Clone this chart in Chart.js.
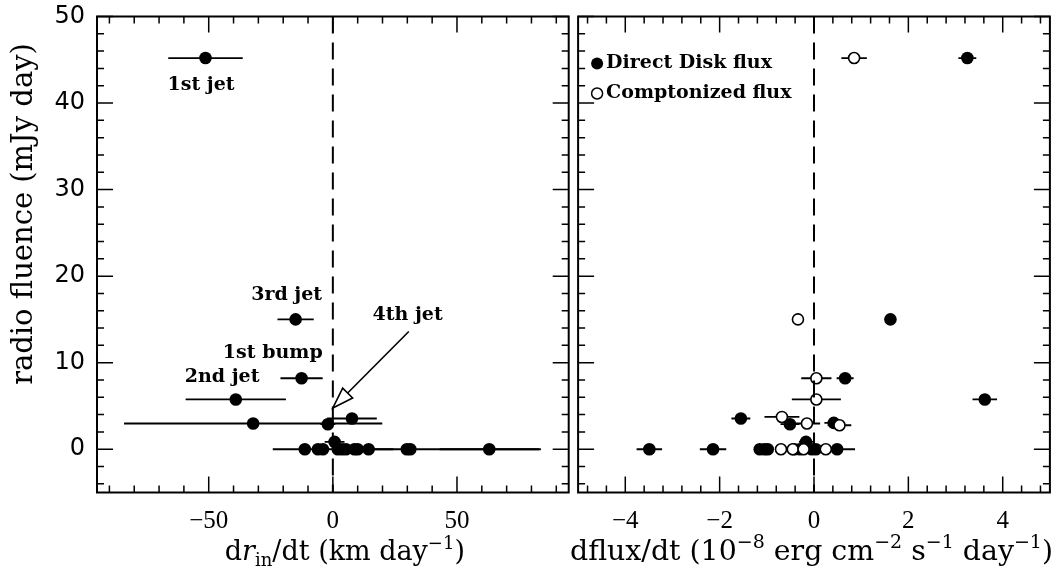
<!DOCTYPE html>
<html>
<head>
<meta charset="utf-8">
<script src="https://cdn.jsdelivr.net/npm/chart.js@4.4.1/dist/chart.umd.min.js"></script>
<style>
  html, body { margin: 0; padding: 0; background: #fff; }
  #wrap { position: relative; width: 1057px; height: 571px; overflow: hidden; }
  canvas { position: absolute; top: 0; }
  #left { left: 0; }
  #right { left: 571px; }
</style>
</head>
<body>
<div id="wrap">
  <canvas id="left" width="575" height="571"></canvas>
  <canvas id="right" width="486" height="571"></canvas>
</div>
<script>
// shared y axis: radio fluence (mJy day)
const yTicks = [0, 10, 20, 30, 40, 50];
const drdtTicks = [-50, 0, 50];
const dfluxTicks = [-4, -2, 0, 2, 4];

// left panel: d r_in / dt (km/day)
const drdtX   = [-51.3, -15.0, -12.6, -39.1, 7.7, -32.1, -2.0, -11.3, -6.0, -4.0, 0.7, 2.0, 3.7, 5.3, 8.7, 10.0, 14.4, 29.8, 31.2, 63.0];
const drdtY   = [45.2, 15.0, 8.2, 5.75, 3.55, 2.97, 2.89, 0, 0, 0, 0.85, 0, 0, 0, 0, 0, 0, 0, 0, 0];
const drdtErr = [15, 7.3, 8.5, 20.2, 10, 52, 3, 0, 0, 0, 4, 0, 0, 0, 0, 0, 10, 54, 0, 20];

// right panel: dflux/dt, direct disk flux (filled)
const diskX   = [3.25, 1.62, 0.66, 3.62, -1.55, 0.42, -0.51, -3.49, -2.14, -1.15, -1.05, -0.98, -0.42, -0.30, -0.17, -0.05, 0.04, 0.49];
const diskY   = [45.2, 15.0, 8.2, 5.75, 3.55, 3.04, 2.89, 0, 0, 0, 0, 0, 0, 0, 0.85, 0, 0, 0];
const diskErr = [0.19, 0, 0.18, 0.26, 0.2, 0.2, 0.2, 0.27, 0.28, 0.12, 0.1, 0.1, 0.15, 0.1, 0.15, 0.1, 0.1, 0.38];

// right panel: comptonized flux (open)
const compX   = [0.85, -0.34, 0.05, 0.05, -0.68, -0.15, 0.54, -0.70, -0.45, -0.22, 0.25];
const compY   = [45.2, 15.0, 8.2, 5.75, 3.73, 2.97, 2.77, 0, 0, 0, 0];
const compErr = [0.27, 0, 0.32, 0.52, 0.37, 0.28, 0.25, 0.1, 0.1, 0.1, 0.1];

// labels in the left panel (data coords)
const jetLabels = ['1st jet', '3rd jet', '1st bump', '2nd jet', '4th jet'];
const jetLabelX = [-53.1, -18.6, -24.2, -44.6, 30.1];
const jetLabelY = [42.1, 17.8, 11.1, 8.36, 15.5];
const arrowFrom = [30.6, 13.6];
const arrowTo = [0, 4.77];

const LABEL_FONT = 'bold 19px "DejaVu Serif"';

function pts(xs, ys) {
  return xs.map((x, i) => ({ x: x, y: ys[i] }));
}

function drawRich(ctx, parts, cx, baseline, size, family) {
  const small = Math.round(size * 0.68);
  const fontFor = k => (k === 'i' ? 'italic ' : '') + ((k === 'sub' || k === 'sup') ? small : size) + 'px ' + family;
  let total = 0;
  parts.forEach(p => { ctx.font = fontFor(p[1]); total += ctx.measureText(p[0]).width; });
  let x = cx - total / 2;
  ctx.textAlign = 'left';
  ctx.textBaseline = 'alphabetic';
  parts.forEach(p => {
    ctx.font = fontFor(p[1]);
    const dy = p[1] === 'sup' ? -size * 0.42 : p[1] === 'sub' ? size * 0.22 : 0;
    ctx.fillText(p[0], x, baseline + dy);
    x += ctx.measureText(p[0]).width;
  });
}

function tickLoop(min, max, step, major, cb) {
  for (let k = Math.ceil(min / step - 1e-9); k * step <= max + 1e-9; k++) {
    const v = k * step;
    const isMajor = Math.abs(v / major - Math.round(v / major)) < 1e-6;
    cb(v, isMajor);
  }
}

const framePlugin = {
  id: 'frame',
  beforeDatasetsDraw(chart) {
    // horizontal error bars
    const ctx = chart.ctx, xs = chart.scales.x, ys = chart.scales.y, ca = chart.chartArea;
    ctx.save();
    ctx.beginPath();
    ctx.rect(ca.left, ca.top, ca.right - ca.left, ca.bottom - ca.top);
    ctx.clip();
    ctx.strokeStyle = '#000';
    ctx.lineWidth = 1.8;
    chart.data.datasets.forEach(ds => {
      ds.data.forEach((p, i) => {
        const e = ds.errX[i];
        if (!e) return;
        const y = ys.getPixelForValue(p.y);
        ctx.beginPath();
        ctx.moveTo(xs.getPixelForValue(p.x - e), y);
        ctx.lineTo(xs.getPixelForValue(p.x + e), y);
        ctx.stroke();
      });
    });
    ctx.restore();
  },
  afterDatasetsDraw(chart) {
    // dashed line at x = 0
    const ctx = chart.ctx, xs = chart.scales.x, ca = chart.chartArea;
    const x0 = xs.getPixelForValue(0);
    ctx.save();
    ctx.strokeStyle = '#000';
    ctx.lineWidth = 2;
    ctx.setLineDash([17, 9]);
    ctx.beginPath();
    ctx.moveTo(x0, ca.top);
    ctx.lineTo(x0, ca.bottom);
    ctx.stroke();
    ctx.restore();
  },
  afterDraw(chart, args, o) {
    const ctx = chart.ctx, xs = chart.scales.x, ys = chart.scales.y, ca = chart.chartArea;
    ctx.save();
    ctx.strokeStyle = '#000';
    ctx.fillStyle = '#000';
    // ticks on all four sides
    ctx.lineWidth = 1.5;
    ctx.beginPath();
    tickLoop(xs.min, xs.max, o.xMinor, o.xMajor, (v, big) => {
      const px = xs.getPixelForValue(v), len = big ? 16 : 7;
      ctx.moveTo(px, ca.bottom); ctx.lineTo(px, ca.bottom - len);
      ctx.moveTo(px, ca.top); ctx.lineTo(px, ca.top + len);
    });
    tickLoop(ys.min, ys.max, 2, 10, (v, big) => {
      const py = ys.getPixelForValue(v), len = big ? 16 : 7;
      ctx.moveTo(ca.left, py); ctx.lineTo(ca.left + len, py);
      ctx.moveTo(ca.right, py); ctx.lineTo(ca.right - len, py);
    });
    ctx.stroke();
    // frame
    ctx.lineWidth = 2;
    ctx.strokeRect(ca.left, ca.top, ca.right - ca.left, ca.bottom - ca.top);

    // x title
    drawRich(ctx, o.xTitle, (ca.left + ca.right) / 2 + o.xTitleShift, 560, o.xTitleSize, o.xTitleFont);

    if (o.yTitle) {
      ctx.save();
      ctx.translate(24, 214);
      ctx.rotate(-Math.PI / 2);
      ctx.font = '29px "DejaVu Serif"';
      ctx.textAlign = 'center';
      ctx.textBaseline = 'middle';
      ctx.fillText(o.yTitle, 0, 0);
      ctx.restore();
    }

    if (o.jets) {
      ctx.font = LABEL_FONT;
      ctx.textAlign = 'center';
      ctx.textBaseline = 'middle';
      jetLabels.forEach((t, i) => {
        ctx.fillText(t, xs.getPixelForValue(jetLabelX[i]), ys.getPixelForValue(jetLabelY[i]));
      });
      // arrow to the 4th jet
      const x1 = xs.getPixelForValue(arrowFrom[0]), y1 = ys.getPixelForValue(arrowFrom[1]);
      const x2 = xs.getPixelForValue(arrowTo[0]), y2 = ys.getPixelForValue(arrowTo[1]);
      const ang = Math.atan2(y2 - y1, x2 - x1);
      const hl = 21, hw = 7;
      const bx = x2 - hl * Math.cos(ang), by = y2 - hl * Math.sin(ang);
      ctx.lineWidth = 1.6;
      ctx.beginPath();
      ctx.moveTo(x1, y1);
      ctx.lineTo(bx, by);
      ctx.stroke();
      ctx.beginPath();
      ctx.moveTo(x2, y2);
      ctx.lineTo(bx + hw * Math.sin(ang), by - hw * Math.cos(ang));
      ctx.lineTo(bx - hw * Math.sin(ang), by + hw * Math.cos(ang));
      ctx.closePath();
      ctx.fillStyle = '#fff';
      ctx.fill();
      ctx.stroke();
      ctx.fillStyle = '#000';
    }

    if (o.legend) {
      const lx = ca.left + 19, ly = ca.top + 47;
      ctx.beginPath();
      ctx.arc(lx, ly, 6, 0, Math.PI * 2);
      ctx.fill();
      ctx.beginPath();
      ctx.arc(lx, ly + 30, 5.5, 0, Math.PI * 2);
      ctx.lineWidth = 1.5;
      ctx.stroke();
      ctx.font = LABEL_FONT;
      ctx.textAlign = 'left';
      ctx.textBaseline = 'middle';
      ctx.fillText('Direct Disk flux', lx + 9, ly);
      ctx.fillText('Comptonized flux', lx + 9, ly + 30);
    }
    ctx.restore();
  }
};

function fixedTicks(list) {
  return scale => { scale.ticks = list.map(v => ({ value: v })); };
}

function panel(id, opts) {
  return new Chart(document.getElementById(id), {
    type: 'scatter',
    data: { datasets: opts.datasets },
    options: {
      responsive: false,
      animation: false,
      events: [],
      layout: { padding: opts.padding },
      plugins: {
        legend: { display: false },
        tooltip: { enabled: false },
        frame: opts.frame
      },
      scales: {
        x: {
          type: 'linear',
          min: opts.xMin,
          max: opts.xMax,
          afterBuildTicks: fixedTicks(opts.xTicks),
          afterFit: s => { s.height = 78.5; s.paddingLeft = 0; s.paddingRight = 0; },
          grid: { display: false, drawTicks: false },
          border: { display: false },
          ticks: {
            padding: 14,
            color: '#000',
            maxRotation: 0,
            autoSkip: false,
            font: { family: '"Liberation Serif"', size: 25 },
            callback: v => String(v).replace('-', '\u2212')
          }
        },
        y: {
          type: 'linear',
          min: -5,
          max: 50,
          display: opts.showY,
          afterBuildTicks: fixedTicks(yTicks),
          afterFit: s => { s.width = opts.showY ? 97 : 0; s.paddingTop = 0; s.paddingBottom = 0; },
          grid: { display: false, drawTicks: false },
          border: { display: false },
          ticks: {
            padding: 12,
            color: '#000',
            autoSkip: false,
            font: { family: '"DejaVu Sans"', size: 24 }
          }
        }
      }
    },
    plugins: [framePlugin]
  });
}

panel('left', {
  xMin: -95, xMax: 95, xTicks: drdtTicks, showY: true,
  padding: { left: 0, right: 2, top: 16.5, bottom: 0 },
  datasets: [{
    data: pts(drdtX, drdtY), errX: drdtErr,
    pointRadius: 6.3, pointBackgroundColor: '#000', pointBorderColor: '#000', pointBorderWidth: 0
  }],
  frame: {
    xMinor: 10, xMajor: 50, jets: true,
    yTitle: 'radio fluence (mJy day)',
    xTitle: [['d', ''], ['r', 'i'], ['in', 'sub'], ['/dt (km day', ''], ['\u22121', 'sup'], [')', '']],
    xTitleShift: 12, xTitleSize: 27, xTitleFont: '"DejaVu Serif"'
  }
});

panel('right', {
  xMin: -5, xMax: 5, xTicks: dfluxTicks, showY: false,
  padding: { left: 2, right: 7, top: 16.5, bottom: 0 },
  datasets: [{
    data: pts(compX, compY), errX: compErr,
    pointRadius: 5.5, pointBackgroundColor: '#fff', pointBorderColor: '#000', pointBorderWidth: 1.6
  }, {
    data: pts(diskX, diskY), errX: diskErr,
    pointRadius: 6.3, pointBackgroundColor: '#000', pointBorderColor: '#000', pointBorderWidth: 0
  }],
  frame: {
    xMinor: 0.4, xMajor: 2, legend: true,
    xTitle: [['dflux/dt (10', ''], ['\u22128', 'sup'], [' erg cm', ''], ['\u22122', 'sup'], [' s', ''], ['\u22121', 'sup'], [' day', ''], ['\u22121', 'sup'], [')', '']],
    xTitleShift: -2.5, xTitleSize: 28.4, xTitleFont: '"DejaVu Serif"'
  }
});
</script>
</body>
</html>
